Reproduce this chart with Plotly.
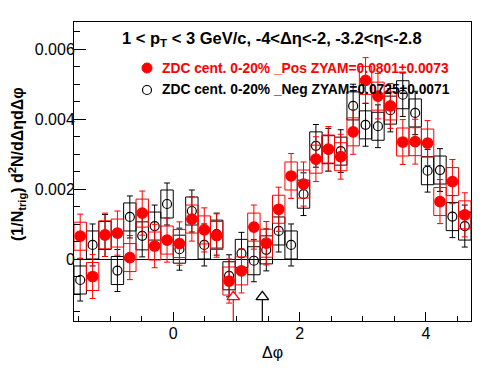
import numpy as np
import plotly.graph_objects as go

# ---- data ----
n_bins = 32
phi_lo, phi_hi = -np.pi / 2, 3 * np.pi / 2

pos_y = [0.00066, -0.00049, 0.00070, 0.00075, 0.00005, 0.00132, 0.00038, 0.00055,
         0.00045, 0.00115, 0.00084, 0.00068, -0.00062, -0.00033, 0.00092, 0.00046,
         0.00143, 0.00238, 0.00215, 0.00286, 0.00315, 0.00293, 0.00364, 0.00511,
         0.00466, 0.00438, 0.00335, 0.00336, 0.00332, 0.00165, 0.00222, 0.00127]
pos_stat = [0.00063, 0.00063, 0.00062, 0.00063, 0.00063, 0.00063, 0.00062, 0.00063,
            0.00062, 0.00063, 0.00063, 0.00062, 0.00063, 0.00063, 0.00063, 0.00062,
            0.00063, 0.00064, 0.00063, 0.00064, 0.00064, 0.00064, 0.00064, 0.00065,
            0.00065, 0.00064, 0.00064, 0.00064, 0.00064, 0.00063, 0.00063, 0.00063]
pos_sys = [0.00040] * 32

neg_y = [-0.00059, 0.00041, 0.00068, -0.00032, 0.00121, 0.00067, 0.00095, 0.00158,
         0.00029, 0.00138, 0.00041, 0.00072, -0.00047, 0.00017, -0.00004, 0.00027,
         0.00081, 0.00041, 0.00186, 0.00324, 0.00313, 0.00309, 0.00438, 0.00384,
         0.00380, 0.00426, 0.00470, 0.00418, 0.00253, 0.00255, 0.00122, 0.00095]
neg_stat = [0.00060, 0.00060, 0.00060, 0.00060, 0.00060, 0.00060, 0.00060, 0.00060,
            0.00060, 0.00060, 0.00060, 0.00060, 0.00060, 0.00060, 0.00060, 0.00060,
            0.00060, 0.00060, 0.00061, 0.00061, 0.00061, 0.00061, 0.00062, 0.00061,
            0.00061, 0.00062, 0.00062, 0.00062, 0.00061, 0.00061, 0.00060, 0.00060]
neg_sys = [0.00040] * 32

# ZYAM minimum position arrows
arrow_x = [0.95, 1.41]
arrow_colors = ["red", "black"]
arrow_head_y = -0.00107
arrow_base_y = -0.00115

title_text = "1 < p<sub>T</sub> < 3 GeV/c, -4<Δη<-2, -3.2<η<-2.8"
pos_label = "ZDC cent. 0-20% _Pos ZYAM=0.0801±0.0073"
neg_label = "ZDC cent. 0-20% _Neg ZYAM=0.0725±0.0071"
x_title = "Δφ"
y_title = "(1/N<sub>trig</sub>) d<sup>2</sup>N/dΔηdΔφ"

y_range = [-0.001761, 0.006777]

# ---- derived ----
edges = np.linspace(phi_lo, phi_hi, n_bins + 1)
centers = 0.5 * (edges[:-1] + edges[1:])


def box_path(vals, sys):
    xs, ys = [], []
    for lo, hi, v, s in zip(edges[:-1], edges[1:], vals, sys):
        xs += [lo, hi, hi, lo, lo, None]
        ys += [v - s, v - s, v + s, v + s, v - s, None]
    return xs, ys


fig = go.Figure()

for vals, stat, sys, col, sym, msize in [
    (neg_y, neg_stat, neg_sys, "black", "circle-open", 9),
    (pos_y, pos_stat, pos_sys, "red", "circle", 10.5),
]:
    bx, by = box_path(vals, sys)
    fig.add_trace(go.Scatter(x=bx, y=by, mode="lines",
                             line=dict(color=col, width=1),
                             hoverinfo="skip", showlegend=False))
    fig.add_trace(go.Scatter(
        x=centers, y=vals, mode="markers",
        marker=dict(symbol=sym, size=msize, color=col,
                    line=dict(color=col, width=1.2)),
        error_y=dict(type="data", array=stat, color=col, thickness=1, width=3),
        showlegend=False))

for ax_, col in zip(arrow_x, arrow_colors):
    fig.add_trace(go.Scatter(x=[ax_, ax_], y=[y_range[0], arrow_base_y],
                             mode="lines", line=dict(color=col, width=1.2),
                             showlegend=False, hoverinfo="skip", cliponaxis=False))
    fig.add_trace(go.Scatter(x=[ax_], y=[arrow_head_y], mode="markers",
                             marker=dict(symbol="triangle-up", size=11,
                                         color="white",
                                         line=dict(color=col, width=1.3)),
                             showlegend=False, hoverinfo="skip"))

# page layout (body has an 8px margin around the plot div)
OFF = 8
FRAME_L, FRAME_R, FRAME_T, FRAME_B = 74, 471, 22, 321
W, H = 496 - 2 * OFF, 374 - 2 * OFF
L = FRAME_L - OFF
T = FRAME_T - OFF
R = W - (FRAME_R - OFF)
B = H - (FRAME_B - OFF)
pw, ph = FRAME_R - FRAME_L, FRAME_B - FRAME_T


def px(xp):
    return (xp - FRAME_L) / pw


def py(yp):
    return (FRAME_B - yp) / ph


font_main = "Liberation Sans, Arial, Helvetica, sans-serif"

annotations = [
    dict(text="<b>" + title_text + "</b>", x=px(272), y=py(39),
         xref="paper", yref="paper", showarrow=False,
         xanchor="center", yanchor="middle",
         font=dict(size=16.5, color="black", family=font_main)),
    dict(text="<b>" + pos_label + "</b>", x=px(160), y=py(68),
         xref="paper", yref="paper", showarrow=False,
         xanchor="left", yanchor="middle",
         font=dict(size=13.8, color="red", family=font_main)),
    dict(text="<b>" + neg_label + "</b>", x=px(160), y=py(90),
         xref="paper", yref="paper", showarrow=False,
         xanchor="left", yanchor="middle",
         font=dict(size=13.8, color="black", family=font_main)),
    dict(text=x_title, x=0.5, y=py(352), xref="paper", yref="paper",
         showarrow=False, xanchor="center", yanchor="middle",
         font=dict(size=16, color="black", family=font_main)),
    dict(text="<b>" + y_title + "</b>", x=px(17), y=py(164),
         xref="paper", yref="paper", showarrow=False, textangle=-90,
         xanchor="center", yanchor="middle",
         font=dict(size=16, color="black", family=font_main)),
]

shapes = [
    dict(type="circle", xref="paper", yref="paper",
         xsizemode="pixel", ysizemode="pixel",
         xanchor=px(147), yanchor=py(68), x0=-5, x1=5, y0=-5, y1=5,
         fillcolor="red", line=dict(color="red", width=1), layer="above"),
    dict(type="circle", xref="paper", yref="paper",
         xsizemode="pixel", ysizemode="pixel",
         xanchor=px(147), yanchor=py(90), x0=-4.5, x1=4.5, y0=-4.5, y1=4.5,
         fillcolor="white", line=dict(color="black", width=1.2), layer="above"),
]

fig.update_layout(
    width=W, height=H,
    margin=dict(l=L, r=R, t=T, b=B, pad=0),
    paper_bgcolor="white", plot_bgcolor="white",
    font=dict(family=font_main, size=16, color="black"),
    annotations=annotations, shapes=shapes,
    showlegend=False,
)
fig.update_xaxes(
    range=[phi_lo, phi_hi], tickmode="array", tickvals=[0, 2, 4],
    ticktext=["0", "2", "4"], ticks="inside", ticklen=9, tickcolor="black",
    tickwidth=1, ticklabelstandoff=-2,
    minor=dict(ticks="inside", ticklen=5, tickcolor="black", tickwidth=1,
               tickvals=[-1.5, -1, -0.5, 0.5, 1, 1.5, 2.5, 3, 3.5, 4.5]),
    showline=True, linecolor="black", linewidth=1, mirror=True,
    showgrid=False, zeroline=False, automargin=False,
    tickfont=dict(size=16, family=font_main),
)
fig.update_yaxes(
    range=y_range, tickmode="array", tickvals=[0, 0.002, 0.004, 0.006],
    ticktext=["0", "0.002", "0.004", "0.006"], ticks="inside", ticklen=12,
    tickcolor="black", tickwidth=1, ticklabelstandoff=-5,
    minor=dict(ticks="inside", ticklen=6, tickcolor="black", tickwidth=1,
               tickvals=[-0.0015, -0.001, -0.0005, 0.0005, 0.001, 0.0015,
                         0.0025, 0.003, 0.0035, 0.0045, 0.005, 0.0055, 0.0065]),
    showline=True, linecolor="black", linewidth=1, mirror=True,
    showgrid=False, zeroline=True, zerolinecolor="black", zerolinewidth=1,
    automargin=False,
    tickfont=dict(size=16, family=font_main),
)

fig.write_html("out.html")
